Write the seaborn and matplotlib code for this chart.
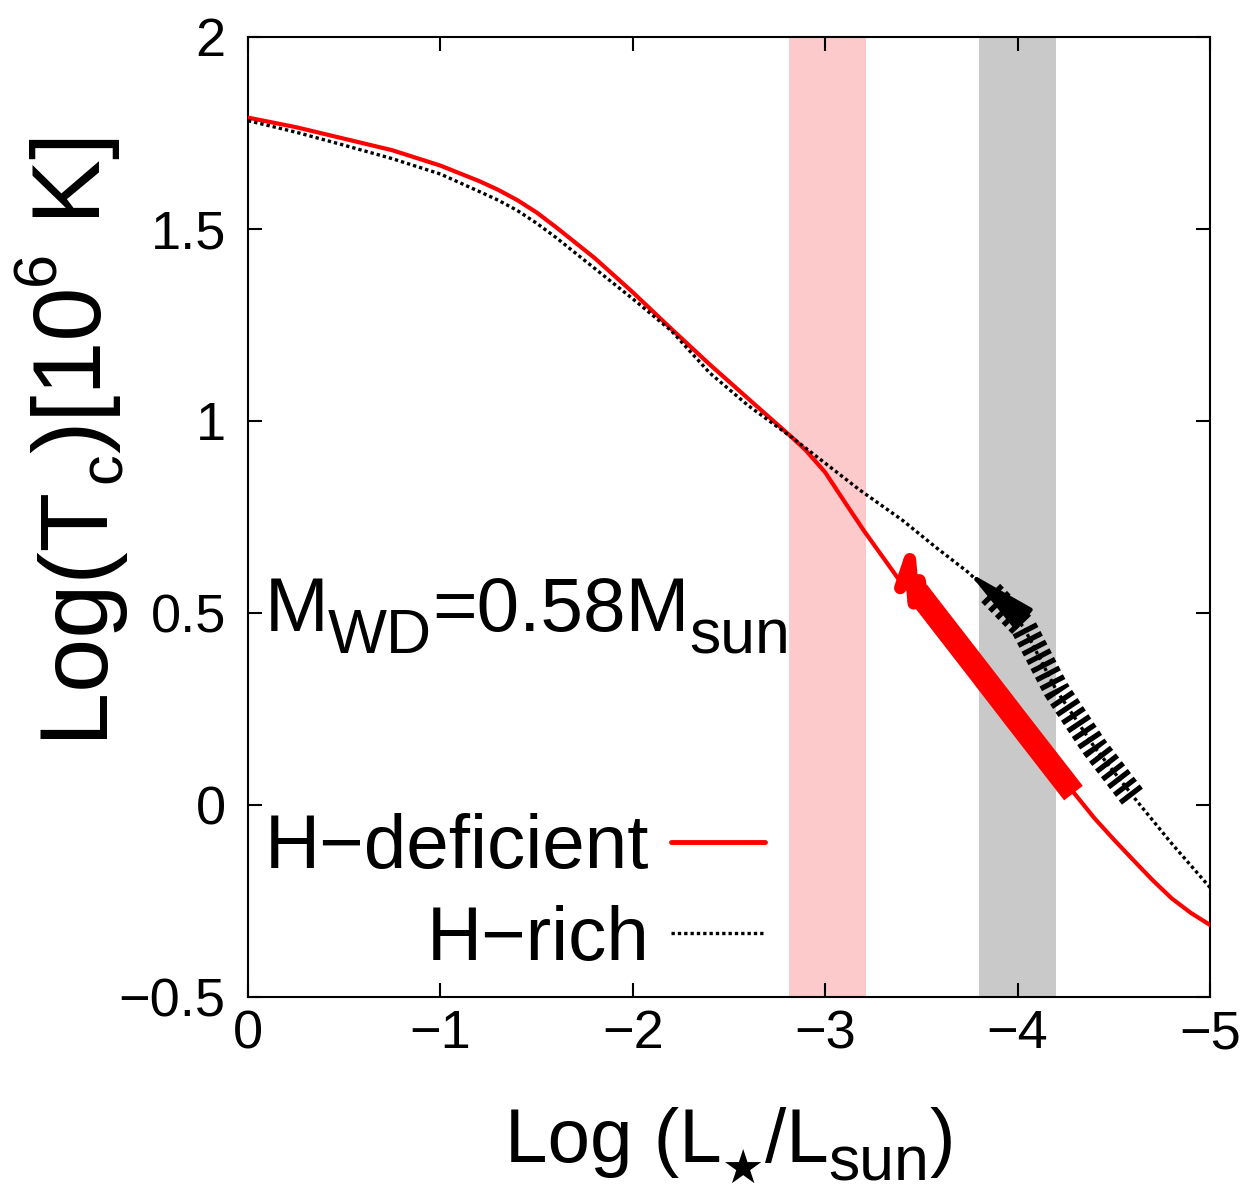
import numpy as np
import pandas as pd
import matplotlib
matplotlib.use("Agg")
import matplotlib.pyplot as plt
import matplotlib.transforms as mtransforms
import seaborn as sns
from matplotlib.lines import Line2D

# ---------------- data ----------------
# H-deficient (red) cooling track
hdef_logL = [0.0, -0.25, -0.5, -0.75, -1.0, -1.2, -1.3, -1.4, -1.5, -1.6, -1.8, -2.0, -2.2,
             -2.4, -2.6, -2.83, -2.9, -3.0, -3.1, -3.2, -3.3, -3.4, -3.54, -3.8, -4.0,
             -4.2, -4.4, -4.5, -4.6, -4.7, -4.8, -4.9, -5.0]
hdef_logTc = [1.79, 1.765, 1.735, 1.705, 1.665, 1.625, 1.602, 1.575, 1.543, 1.505, 1.425,
              1.335, 1.24, 1.147, 1.058, 0.956, 0.923, 0.866, 0.79, 0.715, 0.645, 0.575,
              0.516, 0.348, 0.218, 0.089, -0.035, -0.09, -0.143, -0.195, -0.243, -0.281,
              -0.3125]

# H-rich (black dotted) cooling track
hrich_logL = [0.0, -0.25, -0.5, -0.75, -1.0, -1.2, -1.3, -1.4, -1.5, -1.6, -1.8, -2.0, -2.2,
              -2.4, -2.6, -2.83, -3.0, -3.18, -3.4, -3.58, -3.74, -3.86, -4.03, -4.2, -4.4,
              -4.62, -4.8, -5.0]
hrich_logTc = [1.782, 1.752, 1.718, 1.683, 1.643, 1.598, 1.575, 1.548, 1.515, 1.478, 1.398,
               1.318, 1.235, 1.125, 1.04, 0.956, 0.89, 0.82, 0.742, 0.669, 0.607, 0.552,
               0.464, 0.30, 0.15, 0.01, -0.10, -0.215]

# thick highlighted portions of the tracks
hdef_band_logL = [-3.48, -3.54, -3.8, -4.0, -4.2, -4.29]
hdef_band_logTc = [0.555, 0.516, 0.348, 0.218, 0.089, 0.031]
hdef_jag_logL = [-3.39, -3.44, -3.46, -3.49, -3.51, -3.55]
hdef_jag_logTc = [0.565, 0.64, 0.525, 0.585, 0.52, 0.51]

hrich_band_logL = [-3.86, -4.03, -4.2, -4.4, -4.61]
hrich_band_logTc = [0.552, 0.464, 0.30, 0.15, 0.013]
hrich_head_tip = (-3.742, 0.607)
hrich_head_base = (-3.90, 0.540)

# shaded luminosity ranges
pink_span = [-2.81, -3.21]
grey_span = [-3.80, -4.20]

xticks = [0, -1, -2, -3, -4, -5]
yticks = [-0.5, 0, 0.5, 1, 1.5, 2]

# ---------------- style ----------------
sns.set_theme(style="ticks")
FAM = ["Liberation Sans", "DejaVu Sans"]
plt.rcParams["font.family"] = FAM
plt.rcParams["text.color"] = "black"
plt.rcParams["axes.labelcolor"] = "black"
plt.rcParams["xtick.color"] = "black"
plt.rcParams["ytick.color"] = "black"
plt.rcParams["axes.edgecolor"] = "black"

fig = plt.figure(figsize=(12.48, 11.92), dpi=100)
ax = fig.add_axes([0.1987, 0.1636, 0.7709, 0.8054])

ax.axvspan(pink_span[0], pink_span[1], color="#fccaca", lw=0, zorder=0)
ax.axvspan(grey_span[0], grey_span[1], color="#c9c9c9", lw=0, zorder=0)

df_def = pd.DataFrame({"x": hdef_logL, "y": hdef_logTc})
df_rich = pd.DataFrame({"x": hrich_logL, "y": hrich_logTc})

DOT = (0, (1.0, 0.9))
sns.lineplot(data=df_def, x="x", y="y", sort=False, estimator=None, color="#ff0000",
             lw=3, ax=ax, zorder=3)
sns.lineplot(data=df_rich, x="x", y="y", sort=False, estimator=None, color="black",
             lw=2.4, linestyle=DOT, ax=ax, zorder=3)

sns.lineplot(x=hdef_band_logL, y=hdef_band_logTc, sort=False, estimator=None,
             color="#ff0000", lw=17, ax=ax, zorder=4)
ax.lines[-1].set_solid_capstyle("butt")
sns.lineplot(x=hdef_jag_logL, y=hdef_jag_logTc, sort=False, estimator=None,
             color="#ff0000", lw=9, ax=ax, zorder=4)

sns.lineplot(x=hrich_band_logL, y=hrich_band_logTc, sort=False, estimator=None,
             color="black", lw=19, ax=ax, zorder=4)
ax.lines[-1].set_linestyle((0, (0.2, 0.17)))
ax.lines[-1].set_dash_capstyle("butt")
ax.annotate("", xy=hrich_head_tip, xytext=hrich_head_base, zorder=5,
            arrowprops=dict(arrowstyle="-|>,head_length=2.0,head_width=0.38",
                            color="black", lw=3, shrinkA=0, shrinkB=0,
                            mutation_scale=22))

ax.set_xlim(0, -5)
ax.set_ylim(-0.5, 2)
ax.set_xticks(xticks)
ax.set_yticks(yticks)
ax.set_xticklabels([f"{t:g}".replace("-", "\u2212") for t in xticks])
ax.set_yticklabels([f"{t:g}".replace("-", "\u2212") for t in yticks])
ax.tick_params(direction="in", length=10, width=1.5, labelsize=39,
               top=True, right=True)
ax.tick_params(axis="x", pad=9)
ax.tick_params(axis="y", pad=16)
for s in ax.spines.values():
    s.set_linewidth(1.5)
    s.set_color("black")
ax.set_xlabel("")
ax.set_ylabel("")

# ---------- rich text helper (real text pieces with bigger sub/superscripts) ----------
renderer = fig.canvas.get_renderer()


def rich_text(parts, x, y, base, align="left", rotation=0):
    """parts: list of (string, fontsize_pt, baseline_shift_pt)."""
    texts, lens = [], []
    for s, size, shift in parts:
        t = fig.text(0, 0, s, fontsize=size, family=FAM, rotation=rotation,
                     rotation_mode="anchor", ha="left", va="baseline",
                     transform=base)
        t.set_position((x, y))
        bb = t.get_window_extent(renderer)
        L = bb.width if rotation == 0 else bb.height
        texts.append((t, shift))
        lens.append(L * 72.0 / fig.dpi)
    total = sum(lens)
    start = 0.0 if align == "left" else -total / 2.0
    cum = start
    for (t, shift), L in zip(texts, lens):
        if rotation == 0:
            dx, dy = cum, shift
        else:
            dx, dy = -shift, cum
        t.set_transform(mtransforms.offset_copy(base, fig=fig, x=dx, y=dy, units="points"))
        cum += L
    return texts


# annotation inside the axes
rich_text([("M", 55, 0), ("WD", 45, -16), ("=0.58M", 55, 0), ("sun", 45, -16)],
          -0.085, 0.453, ax.transData)

# axis labels
rich_text([("Log (L", 55, 0), ("\u2605", 34, -16), ("/L", 55, 0), ("sun", 45, -13), (")", 55, 0)],
          730 / 1248, 1 - 1162 / 1192, fig.transFigure, align="center")
rich_text([("Log(T", 70, 0), ("c", 44, -15), (")[10", 70, 0), ("6", 44, 33), (" K]", 70, 0)],
          100 / 1248, 1 - 435 / 1192, fig.transFigure, align="center", rotation=90)

handles = [Line2D([], [], color="#ff0000", lw=3.5),
           Line2D([], [], color="black", lw=2.4, linestyle=DOT)]
ax.legend(handles, ["H\u2212deficient", "H\u2212rich"], loc="lower right",
          bbox_to_anchor=(0.537, 0.022), frameon=False, markerfirst=False,
          fontsize=55, handlelength=1.22, handletextpad=0.29, labelspacing=0.27,
          borderpad=0, borderaxespad=0)

fig.savefig("out.png", dpi=100)
